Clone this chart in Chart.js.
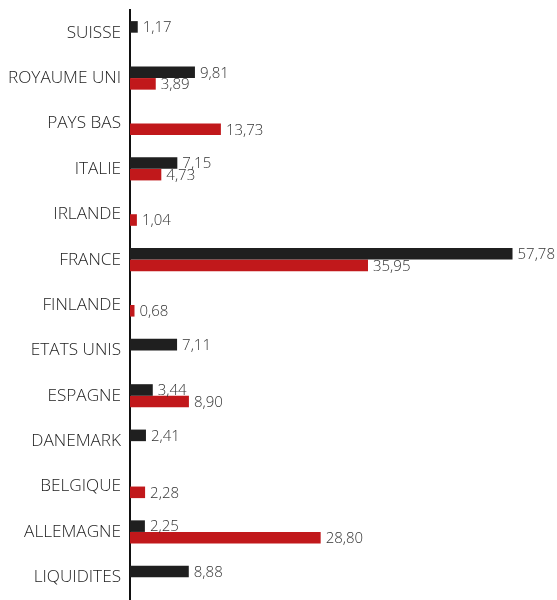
<!DOCTYPE html>
<html>
<head>
<meta charset="utf-8">
<script src="https://cdn.jsdelivr.net/npm/chart.js@4"></script>
<style>
  html, body { margin: 0; padding: 0; background: #fff; overflow: hidden; }
  #wrap { width: 557px; height: 600px; }
</style>
</head>
<body>
<div id="wrap"><canvas id="myBarChart"></canvas></div>
<script>
var pays = ["SUISSE", "ROYAUME UNI", "PAYS BAS", "ITALIE", "IRLANDE", "FRANCE", "FINLANDE",
            "ETATS UNIS", "ESPAGNE", "DANEMARK", "BELGIQUE", "ALLEMAGNE", "LIQUIDITES"];
var serieNoire = [1.17, 9.81, null, 7.15, null, 57.78, null, 7.11, 3.44, 2.41, null, 2.25, 8.88];
var serieRouge = [null, 3.89, 13.73, 4.73, 1.04, 35.95, 0.68, null, 8.90, null, 2.28, 28.80, null];

// etiquettes de valeur au bout des barres
var valeurs = {
  id: 'valeurs',
  afterDatasetsDraw: function(chart) {
    var ctx = chart.ctx;
    ctx.save();
    ctx.font = '300 15px "Open Sans"';
    ctx.fillStyle = '#333';
    ctx.textBaseline = 'middle';
    ctx.textAlign = 'left';
    chart.data.datasets.forEach(function(ds, i) {
      var meta = chart.getDatasetMeta(i);
      meta.data.forEach(function(bar, j) {
        var v = ds.data[j];
        if (v === null) return;
        ctx.fillText(v.toFixed(2).replace('.', ','), bar.x + 5, bar.y + 1);
      });
    });
    ctx.restore();
  }
};

var ctx = document.getElementById("myBarChart").getContext("2d");
var chart = new Chart(ctx, {
  type: "bar",
  data: {
    labels: pays,
    datasets: [
      { data: serieNoire, backgroundColor: "#1f1f1f", categoryPercentage: 0.51, barPercentage: 1.0 },
      { data: serieRouge, backgroundColor: "#c1181b", categoryPercentage: 0.51, barPercentage: 1.0 }
    ]
  },
  options: {
    indexAxis: 'y',
    responsive: true,
    maintainAspectRatio: false,
    animation: false,
    layout: { padding: { top: 10, right: 0, bottom: 0, left: 0 } },
    plugins: { legend: { display: false }, tooltip: { enabled: false } },
    scales: {
      x: { display: false, min: 0, max: 64.5 },
      y: {
        grid: { display: false },
        border: { display: true, color: '#111', width: 2 },
        ticks: { color: '#222', padding: 1, font: { family: 'Open Sans', size: 17.2, weight: 300 } },
        afterFit: function(scale) {
          scale.width = 130;
          scale.paddingTop = 0;
          scale.paddingBottom = 0;
        }
      }
    }
  },
  plugins: [valeurs]
});
</script>
</body>
</html>
